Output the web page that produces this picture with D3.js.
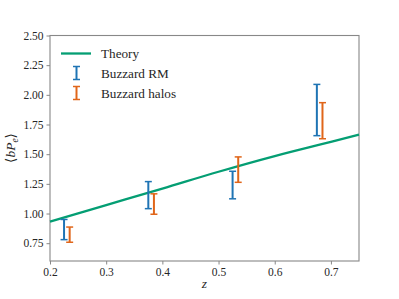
<!DOCTYPE html>
<html>
<head>
<meta charset="utf-8">
<script src="https://cdn.jsdelivr.net/npm/d3@7"></script>
<style>
  body { margin: 0; background: #fff; }
  text { font-family: "Liberation Serif", "DejaVu Serif", serif; fill: #262626; }
</style>
</head>
<body>
<svg id="chart" width="399" height="299"></svg>
<script>
// theory curve
const theoryZ = [0.2, 0.3, 0.4, 0.5, 0.6, 0.7, 0.75];
const theoryB = [0.932, 1.071, 1.21, 1.352, 1.484, 1.604, 1.665];

// Buzzard RM (central value and error)
const rmZ = [0.225, 0.375, 0.525, 0.675];
const rmB = [0.865, 1.155, 1.24, 1.872];
const rmErr = [0.085, 0.114, 0.116, 0.216];

// Buzzard halos
const haloZ = [0.235, 0.385, 0.535, 0.685];
const haloB = [0.822, 1.08, 1.37, 1.782];
const haloErr = [0.064, 0.086, 0.107, 0.152];

const xTicks = [0.2, 0.3, 0.4, 0.5, 0.6, 0.7];
const yTicks = [0.75, 1.0, 1.25, 1.5, 1.75, 2.0, 2.25, 2.5];

const colGreen = "#049e73", colBlue = "#1f74b4", colOrange = "#e0661a";

const svg = d3.select("#chart");
const L = 50, R = 359, T = 35.5, B = 261;

let x = d3.scaleLinear().domain([0.2, 0.75]).range([L, R]),
    y = d3.scaleLinear().domain([0.6, 2.5]).range([B, T]);

// axes
let xAxis = svg.append("g").attr("transform", `translate(0,${B})`)
    .call(d3.axisBottom(x).tickValues(xTicks).tickFormat(d3.format(".1f")).tickSize(3.5).tickPadding(3));
let yAxis = svg.append("g").attr("transform", `translate(${L},0)`)
    .call(d3.axisLeft(y).tickValues(yTicks).tickFormat(d3.format(".2f")).tickSize(3.5).tickPadding(3));
[xAxis, yAxis].forEach(a => {
    a.select(".domain").remove();
    a.selectAll("line").attr("stroke", "#888");
    a.selectAll("text").style("font-size", "11.5px").attr("fill", "#262626");
});

// frame
svg.append("rect")
    .attr("x", L).attr("y", T).attr("width", R - L).attr("height", B - T)
    .attr("fill", "none").attr("stroke", "#888").attr("stroke-width", 1.1);

// theory line
let pts = theoryZ.map((z, i) => [x(z), y(theoryB[i])]);
svg.append("path")
    .attr("d", d3.line().curve(d3.curveMonotoneX)(pts))
    .attr("fill", "none").attr("stroke", colGreen).attr("stroke-width", 2.3);

// error bars
function errBars(zs, vals, errs, c){
    let g = svg.append("g").attr("stroke", c).attr("stroke-width", 2);
    zs.forEach((z, i) => {
        let px = x(z), y0 = y(vals[i] - errs[i]), y1 = y(vals[i] + errs[i]);
        g.append("line").attr("x1", px).attr("x2", px).attr("y1", y0).attr("y2", y1);
        g.append("line").attr("x1", px - 3.5).attr("x2", px + 3.5).attr("y1", y0).attr("y2", y0).attr("stroke-width", 1.5);
        g.append("line").attr("x1", px - 3.5).attr("x2", px + 3.5).attr("y1", y1).attr("y2", y1).attr("stroke-width", 1.5);
    });
}
errBars(rmZ, rmB, rmErr, colBlue);
errBars(haloZ, haloB, haloErr, colOrange);

// legend
let lg = svg.append("g");
lg.append("line").attr("x1", 61).attr("x2", 91).attr("y1", 53.5).attr("y2", 53.5)
    .attr("stroke", colGreen).attr("stroke-width", 2.3);
[[colBlue, 73], [colOrange, 93]].forEach(([c, cy]) => {
    let g = lg.append("g").attr("stroke", c);
    g.append("line").attr("x1", 76.5).attr("x2", 76.5).attr("y1", cy - 6.5).attr("y2", cy + 6.5).attr("stroke-width", 2);
    g.append("line").attr("x1", 73).attr("x2", 80).attr("y1", cy - 6.5).attr("y2", cy - 6.5).attr("stroke-width", 1.5);
    g.append("line").attr("x1", 73).attr("x2", 80).attr("y1", cy + 6.5).attr("y2", cy + 6.5).attr("stroke-width", 1.5);
});
["Theory", "Buzzard RM", "Buzzard halos"].forEach((t, i) => {
    lg.append("text").attr("x", 101).attr("y", 53.5 + i * 19.7).attr("dy", "0.35em")
        .style("font-size", "13.2px").text(t);
});

// axis labels
svg.append("text").attr("x", (L + R) / 2).attr("y", 288)
    .attr("text-anchor", "middle").style("font-size", "13.5px").style("font-style", "italic").text("z");

let yl = svg.append("text").attr("transform", `translate(15,148) rotate(-90)`)
    .attr("text-anchor", "middle").style("font-size", "13.5px");
yl.append("tspan").text("\u27E8");
yl.append("tspan").style("font-style", "italic").text("bP");
yl.append("tspan").style("font-style", "italic").style("font-size", "9.5px").attr("dy", 3).text("e");
yl.append("tspan").attr("dy", -3).text("\u27E9");
</script>
</body>
</html>
